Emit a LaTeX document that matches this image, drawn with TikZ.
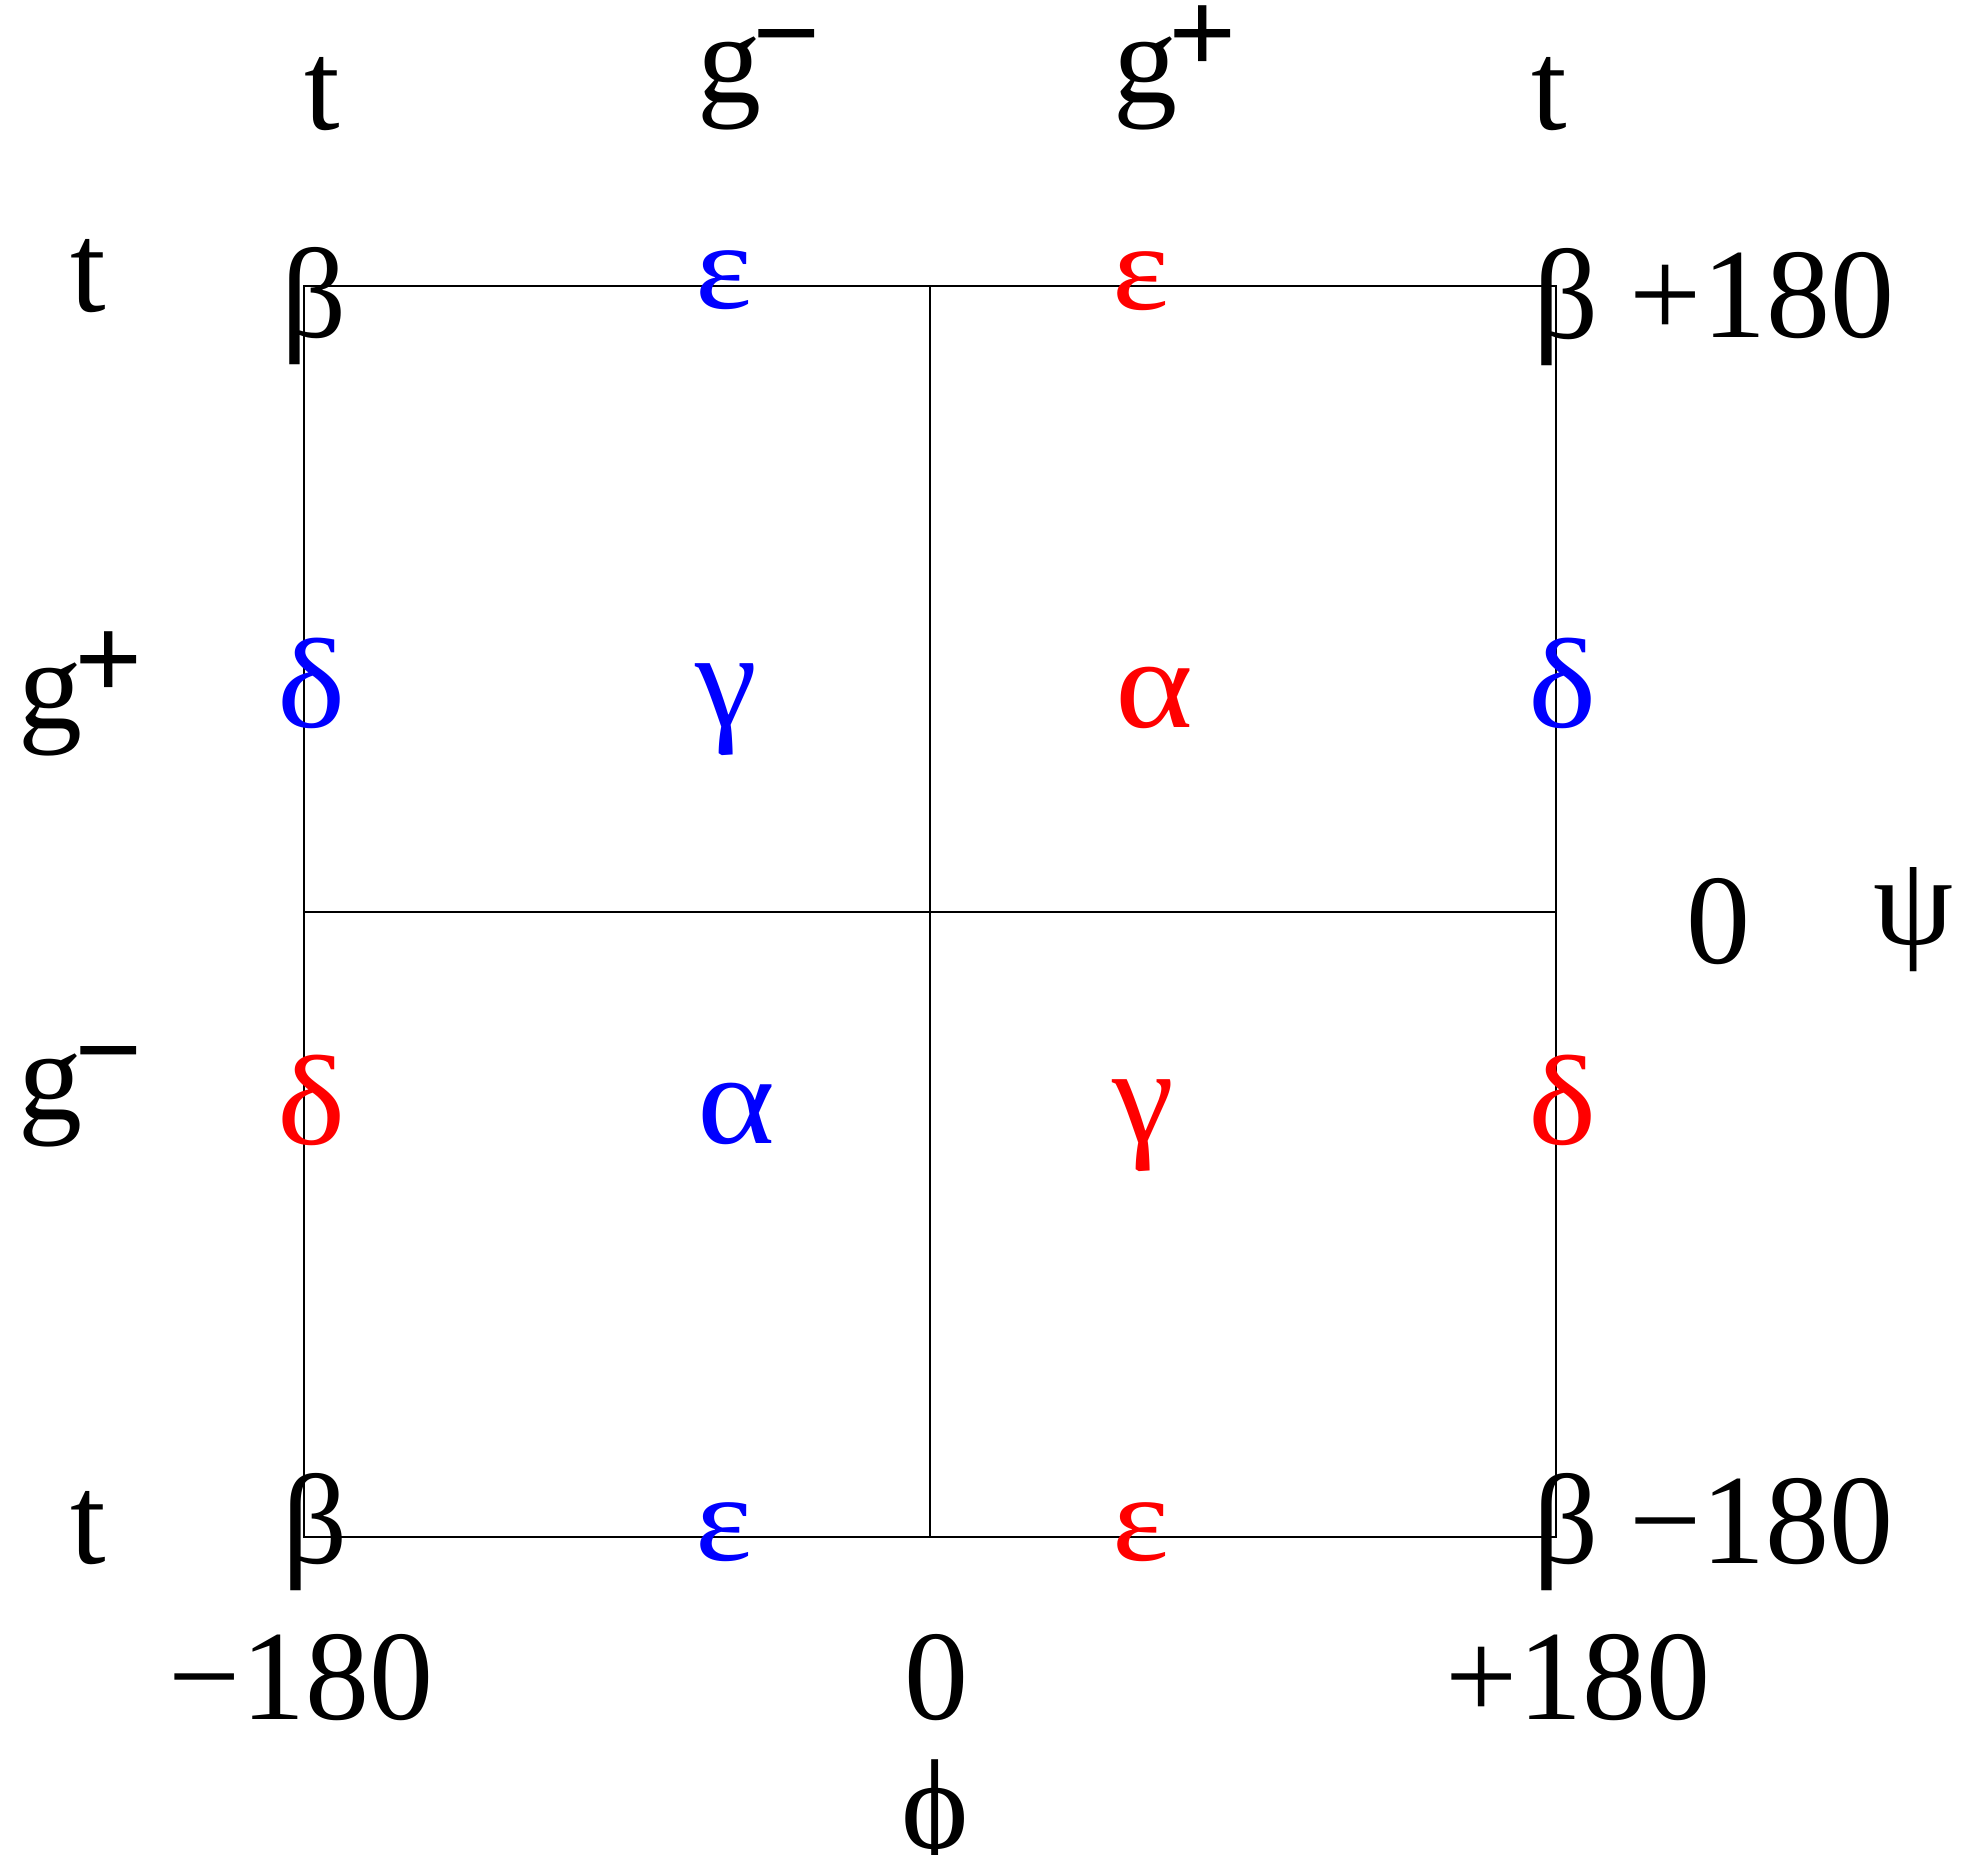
\documentclass[tikz,border=0pt]{standalone}
\usepackage{fontspec}
\setmainfont{Liberation Serif}
\definecolor{cblue}{RGB}{0,0,255}
\definecolor{cred}{RGB}{255,0,0}
\newcommand\gsup[1]{g\kern-9pt\raisebox{29pt}{\fontsize{120}{120}\selectfont\bfseries #1}}
\newcommand\galpha{\scalebox{1.16}[1.0]{α}}
\newcommand\gdelta{\scalebox{1.13}[1.0]{δ}}
\newcommand\ggamma{\scalebox{1.09}[1.07]{γ}}
\newcommand\geps{\scalebox{1.06}[0.96]{ε}}
\begin{document}
\begin{tikzpicture}[x=1pt,y=-1pt,
  lbl/.style={inner sep=0pt,outer sep=0pt,font=\fontsize{128}{150}\selectfont},
  gl/.style={lbl,anchor=base west},
  bl/.style={lbl,text=cblue},
  rd/.style={lbl,text=cred},
  grid/.style={line width=2pt,black}]
\fill[white] (0,0) rectangle (1966,1855);
\useasboundingbox (0,0) rectangle (1966,1855);
% frame
\coordinate (c00) at (304.3,285.7);
\coordinate (c10) at (930.2,285.7);
\coordinate (c20) at (1556,285.7);
\coordinate (c01) at (304.3,911.5);
\coordinate (c21) at (1556,911.5);
\coordinate (c02) at (304.3,1536.5);
\coordinate (c12) at (930.2,1536.5);
\coordinate (c22) at (1556,1536.5);
\draw[grid] (c00) -- (c20) -- (c22) -- (c02) -- cycle;
\draw[grid] (c10) -- (c12);
\draw[grid] (c01) -- (c21);
% header row
\node[lbl] (ht1) at (322.5,94) {t};
\node[gl] (hg1) at (697,102.7) {\gsup{−}};
\node[gl] (hg2) at (1113.7,102.7) {\gsup{+}};
\node[lbl] (ht2) at (1549,94) {t};
% top row
\node[lbl] (lt1) at (88,276.5) {t};
\node[lbl] (b1) at (314.5,306) {β};
\node[bl] (e1) at (724,280.5) {\geps};
\node[rd] (e2) at (1141,280.7) {\geps};
\node[lbl] (b2) at (1566.5,306.7) {β};
\node[lbl] (p180r) at (1762,295.5) {+180};
% middle rows
\node[gl] (lg1) at (19,728) {\gsup{+}};
\node[bl] (d1) at (311.5,683) {\gdelta};
\node[bl] (gam1) at (726,710) {\ggamma};
\node[rd] (al1) at (1154,697.7) {\galpha};
\node[bl] (d2) at (1562.5,683) {\gdelta};
\node[lbl] (z1) at (1718,922) {0};
\node[lbl] (psi) at (1913.7,920) {ψ};
\node[gl] (lg2) at (19,1119) {\gsup{−}};
\node[rd] (d3) at (311.5,1100) {\gdelta};
\node[bl] (al2) at (736,1114) {\galpha};
\node[rd] (gam2) at (1143.6,1126) {\ggamma};
\node[rd] (d4) at (1562.5,1100) {\gdelta};
% bottom row
\node[lbl] (lt2) at (88,1528) {t};
\node[lbl] (b3) at (315,1531.7) {β};
\node[bl] (e3) at (724,1532.5) {\geps};
\node[rd] (e4) at (1141,1532.5) {\geps};
\node[lbl] (b4) at (1566.5,1531.7) {β};
\node[lbl] (m180r) at (1761.5,1521.7) {−180};
% axis labels
\node[lbl] (m180b) at (301,1678) {−180};
\node[lbl] (z2) at (936,1678) {0};
\node[lbl] (p180b) at (1578,1678) {+180};
\node[lbl,anchor=base] (phi) at (935.5,1848) {ϕ};
\end{tikzpicture}
\end{document}
